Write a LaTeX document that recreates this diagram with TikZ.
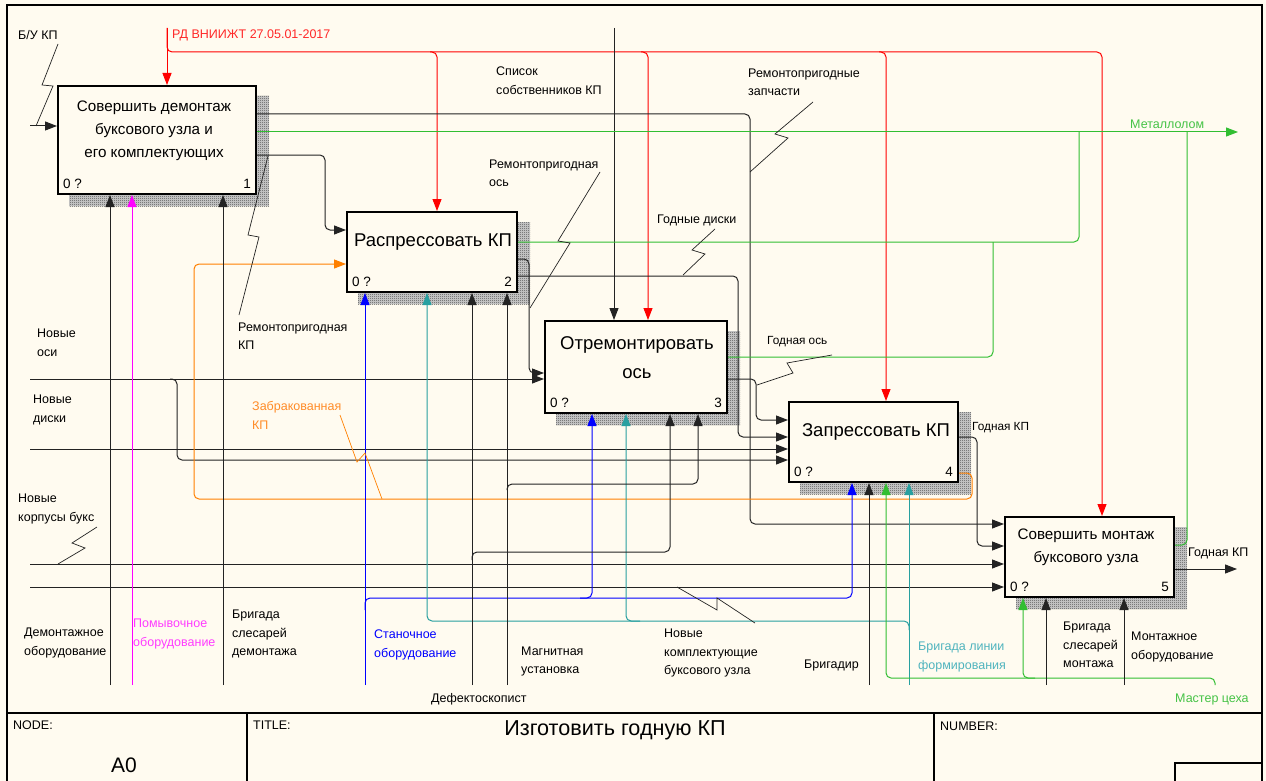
\documentclass[tikz,border=0pt]{standalone}
\usepackage{fontspec}
\setmainfont{Liberation Sans}
\usetikzlibrary{arrows.meta,patterns}

\definecolor{paper}{RGB}{255,251,240}
\definecolor{lnk}{RGB}{35,35,35}
\definecolor{rd}{RGB}{255,0,0}
\definecolor{rdtxt}{RGB}{255,40,40}
\definecolor{gr}{RGB}{50,190,50}
\definecolor{grtxt}{RGB}{70,195,70}
\definecolor{bl}{RGB}{0,0,255}
\definecolor{tl}{RGB}{40,160,160}
\definecolor{tltxt}{RGB}{80,180,190}
\definecolor{org}{RGB}{255,128,0}
\definecolor{orgtxt}{RGB}{255,140,40}
\definecolor{mg}{RGB}{255,0,255}
\definecolor{mgtxt}{RGB}{255,60,255}

% fine checkerboard used for the box shadows
\pgfdeclarepatternformonly{fine checker}{\pgfqpoint{0pt}{0pt}}{\pgfqpoint{2pt}{2pt}}{\pgfqpoint{2pt}{2pt}}{%
  \pgfpathrectangle{\pgfqpoint{0pt}{0pt}}{\pgfqpoint{1pt}{1pt}}%
  \pgfpathrectangle{\pgfqpoint{1pt}{1pt}}{\pgfqpoint{1pt}{1pt}}%
  \pgfusepath{fill}}

\pgfdeclarelayer{back}
\pgfdeclarelayer{shadow}
\pgfsetlayers{back,shadow,main}

\tikzset{
  conn/.style={draw=lnk, line width=1pt, rounded corners=5pt},
  tip/.style={-{Triangle[length=12pt,width=9pt]}},
  fbox/.style={draw=black, line width=2pt, fill=paper, inner sep=0pt},
  bigtxt/.style={align=center, inner sep=0pt, font=\fontsize{18.5}{29}\selectfont},
  midtxt/.style={align=center, inner sep=0pt, font=\fontsize{15.2}{23}\selectfont},
  lbl/.style={anchor=west, align=left, inner sep=0pt, font=\fontsize{12.5}{18.5}\selectfont},
  small/.style={font=\fontsize{11.8}{16}\selectfont},
  idx/.style={inner sep=0pt, font=\fontsize{13.5}{15}\selectfont},
  tb/.style={anchor=west, inner sep=0pt, font=\fontsize{12.5}{15}\selectfont},
  sq/.style={draw=lnk, line width=0.7pt},
  shadefill/.style={fill=black!18, postaction={pattern=fine checker, pattern color=black!70}},
}

\begin{document}
\begin{tikzpicture}[x=1pt,y=-1pt]
\useasboundingbox (0,0) rectangle (1266,781);
\begin{pgfonlayer}{back}
  \fill[paper] (0,0) rectangle (1266,781);
\end{pgfonlayer}

% frame and title block
\draw[line width=2pt] (7,790) -- (7,5) -- (1262,5) -- (1262,790);
\draw[line width=1.5pt] (7,713) -- (1262,713);
\draw[line width=1.5pt] (247,713) -- (247,790);
\draw[line width=1.5pt] (934,713) -- (934,790);
\draw[line width=1.5pt] (1175,790) -- (1175,763) -- (1262,763);
\node[tb] (tNode) at (13,725) {NODE:};
\node[inner sep=0pt, font=\fontsize{21}{24}\selectfont] (tA0) at (124,765) {A0};
\node[tb] (tTitle) at (253,725) {TITLE:};
\node[inner sep=0pt, font=\fontsize{21.6}{24}\selectfont] (tName) at (615,730) {Изготовить годную КП};
\node[tb] (tNum) at (940,726) {NUMBER:};

% activity boxes
\node[fbox, minimum width=198pt, minimum height=108pt] (b1) at (157,140) {};
\node[fbox, minimum width=170pt, minimum height=80pt] (b2) at (432,252) {};
\node[fbox, minimum width=182pt, minimum height=92pt] (b3) at (636,367) {};
\node[fbox, minimum width=169pt, minimum height=80pt] (b4) at (873.5,442) {};
\node[fbox, minimum width=169pt, minimum height=80pt] (b5) at (1089.5,557) {};

\begin{pgfonlayer}{shadow}
  \foreach \b in {b1,b2,b3,b4,b5}
    \path[shadefill]
      ([shift={(12,11)}]\b.south west) rectangle ([shift={(12,11)}]\b.north east);
\end{pgfonlayer}

\node[midtxt] (t1) at (154,131) {Совершить демонтаж\\буксового узла и\\его комплектующих};
\node[bigtxt] (t2) at (433,242) {Распрессовать КП};
\node[bigtxt] (t3) at (637,357.5) {Отремонтировать\\ось};
\node[bigtxt] (t4) at (876,432) {Запрессовать КП};
\node[midtxt] (t5) at (1086,547.5) {Совершить монтаж\\буксового узла};

\foreach \b/\n in {b1/1,b2/2,b3/3,b4/4,b5/5}{
  \node[idx, anchor=west] at ([shift={(6,-11)}]\b.south west) {0 ?};
  \node[idx, anchor=east] at ([shift={(-6,-11)}]\b.south east) {\n};
}

% controls from the top
\coordinate (rdSrc) at (167,28);
\draw[conn, draw=rd, tip] (rdSrc) -- (rdSrc |- b1.north);
\draw[conn, draw=rd, tip] (rdSrc) |- (1102,52) -- (b5.north -| 1102,0);
\draw[conn, draw=rd, tip] (430,52) -| (b2.north -| 437,0);
\draw[conn, draw=rd, tip] (641,52) -| (b3.north -| 648,0);
\draw[conn, draw=rd, tip] (879,52) -| (b4.north -| 886,0);
\coordinate (spSrc) at (614,28);
\draw[conn, tip] (spSrc) -- (spSrc |- b3.north);

% inputs from the left border
\coordinate (buSrc) at (30,126);
\draw[conn, tip] (buSrc) -- (b1.west |- buSrc);
\coordinate (noSrc) at (30,379);
\draw[conn, tip] (noSrc) -- (b3.west |- noSrc);
\draw[conn, tip] (170,379) -| (177,460) -- (b4.west |- 0,460);
\coordinate (ndSrc) at (30,449);
\draw[conn, tip] (ndSrc) -- (b4.west |- ndSrc);
\coordinate (nkSrc) at (30,564);
\draw[conn, tip] (nkSrc) -- (b5.west |- nkSrc);
\coordinate (nkbSrc) at (30,587);
\draw[conn, tip] (nkbSrc) -- (b5.west |- nkbSrc);

% outputs of box 1
\draw[conn, tip] (b1.east |- 0,114) -| (750,524) -- (b5.west |- 0,524);
\coordinate (metEnd) at (1238,132);
\draw[conn, draw=gr, tip] (b1.east |- metEnd) -- (metEnd);
\draw[conn, tip] (b1.east |- 0,155) -| (325,230) -- (b2.west |- 0,230);

% outputs of box 2
\draw[conn, draw=gr] (b2.east |- 0,242) -| (1079,132);
\draw[conn, tip] (b2.east |- 0,259) -| (529,373) -- (b3.west |- 0,373);
\draw[conn, tip] (b2.east |- 0,276) -| (738,437) -- (b4.west |- 0,437);

% outputs of box 3
\draw[conn, draw=gr] (b3.east |- 0,357) -| (993,242);
\draw[conn, tip] (b3.east |- 0,379) -| (756,420) -- (b4.west |- 0,420);

% outputs of box 4
\draw[conn, tip] (b4.east |- 0,437) -| (977,546) -- (b5.west |- 0,546);
\draw[conn, draw=org, tip] (b4.east |- 0,473) -| (972,499) -| (194,264) -- (b2.west |- 0,264);

% outputs of box 5
\draw[conn, draw=gr] (b5.east |- 0,545) -| (1187,132);
\coordinate (outEnd) at (1237,569);
\draw[conn, tip] (b5.east |- outEnd) -- (outEnd);

% mechanisms from the bottom
\coordinate (m1) at (110,685);
\draw[conn, tip] (m1) -- (m1 |- b1.south);
\coordinate (m2) at (132,685);
\draw[conn, draw=mg, tip] (m2) -- (m2 |- b1.south);
\coordinate (m3) at (223,685);
\draw[conn, tip] (m3) -- (m3 |- b1.south);
\coordinate (m4) at (365,685);
\draw[conn, draw=bl, tip] (m4) -- (m4 |- b2.south);
\draw[conn, draw=bl, tip] (365,610) |- (852,598) -- (b4.south -| 852,0);
\draw[conn, draw=bl, tip] (580,598) -| (b3.south -| 592,0);
\coordinate (m5) at (909,685);
\draw[conn, draw=tl, tip] (m5) -- (m5 |- b4.south);
\draw[conn, draw=tl, tip] (909,630) |- (427,621) -- (b2.south -| 427,0);
\draw[conn, draw=tl, tip] (640,621) -| (b3.south -| 626,0);
\coordinate (m6) at (472,685);
\draw[conn, tip] (m6) -- (m6 |- b2.south);
\draw[conn, tip] (472,560) |- (670,552) -- (b3.south -| 670,0);
\coordinate (m7) at (507,685);
\draw[conn, tip] (m7) -- (m7 |- b2.south);
\draw[conn, tip] (507,490) |- (698,484) -- (b3.south -| 698,0);
\coordinate (m8) at (869,685);
\draw[conn, tip] (m8) -- (m8 |- b4.south);
\coordinate (m9) at (1215,685);
\draw[conn, draw=gr, tip] (m9) |- (886,678) -- (b4.south -| 886,0);
\draw[conn, draw=gr, tip] (1035,678) -| (b5.south -| 1023,0);
\coordinate (m10) at (1046,685);
\draw[conn, tip] (m10) -- (m10 |- b5.south);
\coordinate (m11) at (1124,685);
\draw[conn, tip] (m11) -- (m11 |- b5.south);

% label leaders
\draw[sq] (58,44) -- (42,85) -- (53,86) -- (36,126);
\draw[sq] (813,102) -- (775,134) -- (788,138) -- (750,172);
\draw[sq] (268,156) -- (248,235) -- (259,237) -- (239,315);
\draw[sq] (600,172) -- (558,241) -- (570,243) -- (530,308);
\draw[sq] (715,229) -- (692,250) -- (705,254) -- (683,275);
\draw[sq] (832,355) -- (787,363) -- (793,373) -- (757,385);
\draw[sq, draw=org] (340,415) -- (357,462) -- (365,453) -- (382,499);
\draw[sq] (97,527) -- (72,543) -- (85,548) -- (58,564);
\draw[sq] (677,587) -- (717,610) -- (717,598) -- (755,623);

% arrow labels
\node[lbl] (lBU) at (18,35) {Б/У КП};
\node[lbl, text=rdtxt] (lRD) at (172,35) {РД ВНИИЖТ 27.05.01-2017};
\node[lbl] (lSP) at (496,80.5) {Список\\собственников КП};
\node[lbl] (lZP) at (748,82.5) {Ремонтопригодные\\запчасти};
\node[lbl, text=grtxt] (lMT) at (1130,124) {Металлолом};
\node[lbl] (lRO) at (489,173.5) {Ремонтопригодная\\ось};
\node[lbl] (lGD) at (657,220) {Годные диски};
\node[lbl] (lRK) at (238,336) {Ремонтопригодная\\КП};
\node[lbl] (lNO) at (37,343) {Новые\\оси};
\node[lbl, small] (lGO) at (767,342) {Годная ось};
\node[lbl] (lND) at (33,410) {Новые\\диски};
\node[lbl, text=orgtxt] (lZB) at (252,415.5) {Забракованная\\КП};
\node[lbl, small] (lGK) at (972,428) {Годная КП};
\node[lbl] (lNK) at (18,509) {Новые\\корпусы букс};
\node[lbl] (lGK5) at (1188,553) {Годная КП};
\node[lbl] (lDO) at (24,643) {Демонтажное\\оборудование};
\node[lbl, text=mgtxt] (lPO) at (133,634) {Помывочное\\оборудование};
\node[lbl] (lBD) at (232,634) {Бригада\\слесарей\\демонтажа};
\node[lbl, text=bl] (lSO) at (374,645) {Станочное\\оборудование};
\node[lbl] (lMU) at (521,661.5) {Магнитная\\установка};
\node[lbl] (lDF) at (431,699) {Дефектоскопист};
\node[lbl] (lNKB) at (664,653) {Новые\\комплектующие\\буксового узла};
\node[lbl, anchor=east] (lBR) at (859,665) {Бригадир};
\node[lbl, text=tltxt] (lBL) at (918,657) {Бригада линии\\формирования};
\node[lbl] (lBM) at (1063,645) {Бригада\\слесарей\\монтажа};
\node[lbl] (lMO) at (1131,647) {Монтажное\\оборудование};
\node[lbl, text=grtxt] (lMC) at (1175,699) {Мастер цеха};
\end{tikzpicture}
\end{document}
